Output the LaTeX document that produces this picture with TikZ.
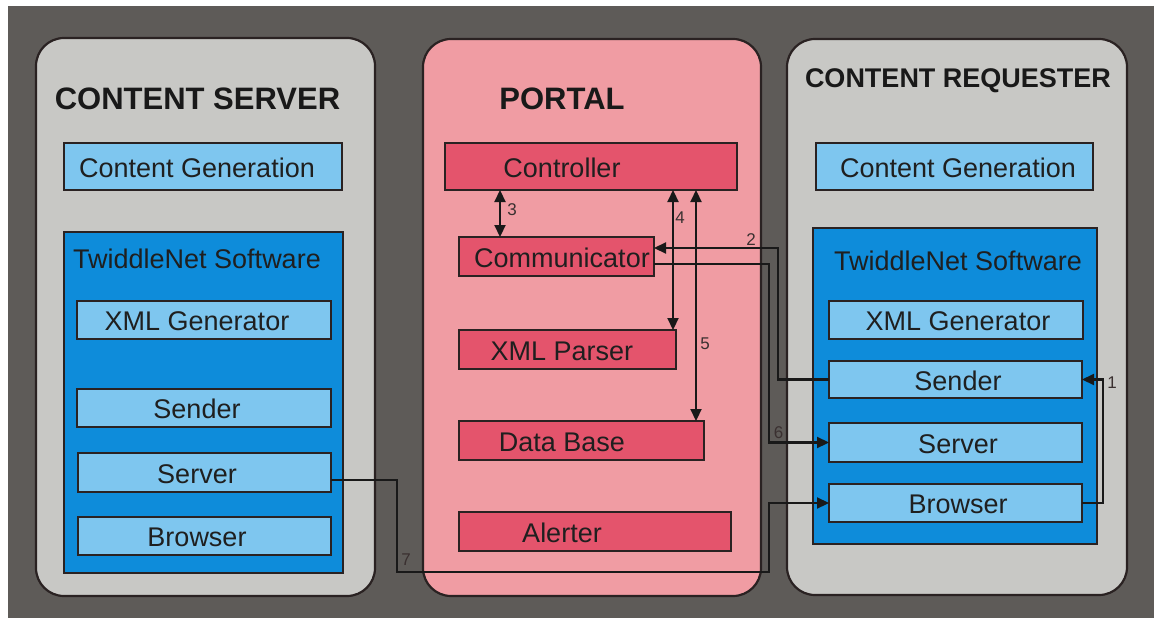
\documentclass[tikz,border=0pt]{standalone}
\usepackage{fontspec}
\setmainfont{Liberation Sans}
\usetikzlibrary{arrows.meta}
\definecolor{bgdark}{HTML}{5E5B58}
\definecolor{panelgrey}{HTML}{C8C8C5}
\definecolor{portalpink}{HTML}{F09CA3}
\definecolor{portalbox}{HTML}{E4546C}
\definecolor{lightblue}{HTML}{7EC6EF}
\definecolor{darkblue}{HTML}{0E8CDA}
\definecolor{edge}{HTML}{2A2222}
\definecolor{numcol}{HTML}{3A3030}
\newcommand\mybox[6]{%
  \node[#6, minimum width={#4-#2}, minimum height={#5-#3}] (#1) at ({(#2+#4)/2},{(#3+#5)/2}) {};}
\newcommand\mytext[4]{%
  \node[boxtext] (#1) at (#2,#3) {#4};}
\tikzset{
  panel/.style={draw=edge, line width=2.2pt, rounded corners=28pt},
  boxbase/.style={draw=edge, line width=2.2pt, rectangle, inner sep=0pt, outer sep=0pt},
  bluebox/.style={boxbase, fill=lightblue},
  twbox/.style={boxbase, fill=darkblue},
  pinkbox/.style={boxbase, fill=portalbox},
  boxtext/.style={anchor=base, font=\fontsize{27}{30}\selectfont, text=black!88, inner sep=0pt},
  headtext/.style={anchor=base, font=\fontsize{31}{34}\selectfont\bfseries, text=black!90, inner sep=0pt},
  conn/.style={draw=black!90, line width=2.2pt},
  tip/.style={-{Triangle[length=12pt,width=11pt]}},
  dtip/.style={{Triangle[length=12pt,width=11pt]}-{Triangle[length=12pt,width=11pt]}},
  num/.style={font=\fontsize{17}{19}\selectfont, text=numcol, inner sep=0pt}
}
\begin{document}
\begin{tikzpicture}[x=1pt,y=-1pt]
\useasboundingbox (0,0) rectangle (1154,618);
\fill[white] (0,0) rectangle (1154,618);
\fill[bgdark] (8,6) rectangle (1154,618);

% panels
\draw[panel, fill=panelgrey] (36,38) rectangle (375,596);
\draw[panel, fill=portalpink] (423,39) rectangle (761,596);
\draw[panel, fill=panelgrey] (787,39) rectangle (1127,595);

% headings
\node[headtext] (hcs) at (197.5,109) {CONTENT SERVER};
\node[headtext] (hp) at (562,110) {PORTAL};
\node[headtext, font=\fontsize{27}{30}\selectfont\bfseries] (hcr) at (958,88) {CONTENT REQUESTER};

% content server
\mybox{lcg}{64}{143}{342}{190}{bluebox}
\mytext{lcgt}{197}{177}{Content Generation}
\mybox{ltw}{64}{232}{343}{573}{twbox}
\node[boxtext, anchor=base west] (ltwt) at (73,268) {TwiddleNet Software};
\mybox{lxml}{77}{301}{331}{339}{bluebox}
\mytext{lxmlt}{197}{330.5}{XML Generator}
\mybox{lsender}{77}{389}{331}{427}{bluebox}
\mytext{lsendert}{197}{418.5}{Sender}
\mybox{lserver}{78}{453}{331}{492}{bluebox}
\mytext{lservert}{197}{483}{Server}
\mybox{lbrowser}{78}{517}{331}{555}{bluebox}
\mytext{lbrowsert}{197}{546.5}{Browser}

% portal
\mybox{ctrl}{445}{143}{737}{190}{pinkbox}
\mytext{ctrlt}{562}{177}{Controller}
\mybox{comm}{459}{237}{654}{276}{pinkbox}
\mytext{commt}{562}{267}{Communicator}
\mybox{xmlp}{459}{330}{676}{369}{pinkbox}
\mytext{xmlpt}{562}{360}{XML Parser}
\mybox{db}{459}{421}{704}{460}{pinkbox}
\mytext{dbt}{562}{451}{Data Base}
\mybox{alert}{459}{512}{731}{551}{pinkbox}
\mytext{alertt}{562}{542}{Alerter}

% content requester
\mybox{rcg}{816}{143}{1093}{190}{bluebox}
\mytext{rcgt}{958}{177}{Content Generation}
\mybox{rtw}{813}{228}{1097}{544}{twbox}
\mytext{rtwt}{958}{270}{TwiddleNet Software}
\mybox{rxml}{829}{301}{1083}{339}{bluebox}
\mytext{rxmlt}{958}{330.5}{XML Generator}
\mybox{rsender}{829}{361}{1082}{398}{bluebox}
\mytext{rsendert}{958}{390}{Sender}
\mybox{rserver}{829}{423}{1082}{462}{bluebox}
\mytext{rservert}{958}{453}{Server}
\mybox{rbrowser}{829}{484}{1082}{522}{bluebox}
\mytext{rbrowsert}{958}{513.5}{Browser}

% helper coordinates
\coordinate (a3) at (500,0);
\coordinate (a4) at (673,0);
\coordinate (a5) at (696,0);
\coordinate (c1) at (1103,0);
\coordinate (c2) at (778,248);
\coordinate (c6) at (769,264);
\coordinate (c7s) at (0,480);
\coordinate (c7a) at (397,572);
\coordinate (c7b) at (769,572);

% portal internal arrows
\draw[conn, dtip] (ctrl.south -| a3) -- (comm.north -| a3);
\draw[conn, dtip] (ctrl.south -| a4) -- (xmlp.north -| a4);
\draw[conn, dtip] (ctrl.south -| a5) -- (db.north -| a5);

% connector 1
\draw[conn, tip] (rbrowser.east) -- (rbrowser.east -| c1) -- (rsender.east -| c1) -- (rsender.east);
% connector 2
\draw[conn, tip] (rsender.west) -| (c2) -- (c2 -| comm.east);
% connector 6
\draw[conn, tip] (c6 -| comm.east) -- (c6) |- (rserver.west);
% connector 7
\draw[conn, tip] (lserver.east |- c7s) -| (c7a) -- (c7b) |- (rbrowser.west);

% numbers
\node[num] (n1) at (1112,383) {1};
\node[num] (n2) at (751,240) {2};
\node[num] (n3) at (512,210) {3};
\node[num] (n4) at (680,218) {4};
\node[num] (n5) at (705,344) {5};
\node[num] (n6) at (778.5,433) {6};
\node[num] (n7) at (406,560) {7};
\end{tikzpicture}
\end{document}
